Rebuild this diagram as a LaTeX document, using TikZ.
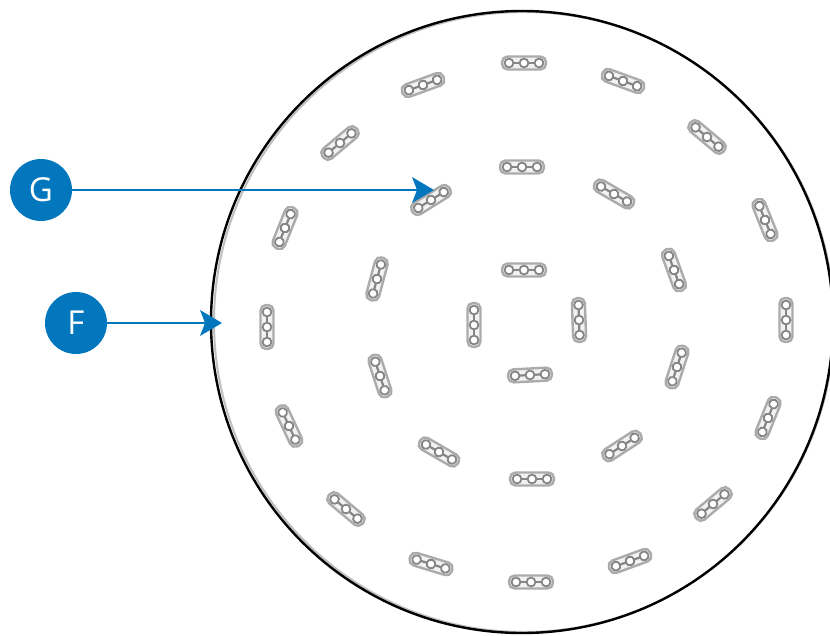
\documentclass[tikz,border=0pt]{standalone}
\usepackage{fontspec}
\setmainfont{Open Sans}
\usetikzlibrary{arrows.meta}
\definecolor{callout}{HTML}{0277BD}
\definecolor{plateline}{HTML}{ABABAB}
\definecolor{holeline}{HTML}{858585}
\tikzset{
  x=1pt,y=-1pt,
  badge/.style={circle,fill=callout,text=white,minimum size=62pt,inner sep=0pt,font=\fontsize{33}{33}\selectfont},
  leader/.style={draw=callout,line width=2.4pt,-{Stealth[length=22pt,width=26pt,inset=5pt,line width=0pt]}},
  plate body/.style={draw=plateline,fill=black!5,line width=2.4pt,rounded corners=5.5pt},
  plate hole/.style={draw=holeline,line width=1.8pt,fill=white},
  pics/fixplate/.style={code={
    \draw[plate body] (-22,-6.5) rectangle (22,6.5);
    \draw[holeline,line width=2.2pt] (-12,0) -- (12,0);
    \draw[plate hole] (-15,0) circle[radius=4.4pt];
    \draw[plate hole] (0,0) circle[radius=4.4pt];
    \draw[plate hole] (15,0) circle[radius=4.4pt];
  }}
}
\begin{document}
\begin{tikzpicture}
\useasboundingbox (0,0) rectangle (830,635);
\clip (0,0) rectangle (830,635);
\fill[white] (0,0) rectangle (830,635);
\draw[black!25,line width=2pt] (524,322) circle[radius=310pt];
\draw[black,line width=2.4pt] (522,322) circle[radius=311pt];
\foreach \px/\py/\pa in {
  524/63/0,623/81/20,707/137/40,765/220/68,786/320/90,768/418/-68,713/504/-40,630/561/-20,
  531/582/0,431/564/17,346/509/40,289/426/65,267/327/90,285/228/-68,340/143/-40,423/85/-20,
  522/167/0,614/194/30,674/270/70,677/367/-72,622/446/-33,532/479/0,439/452/30,380/376/72,377/279/-75,431/200/-32,
  524/270/0,579/320/88,530/375/-3,474/325/90}{
  \pic[rotate=-\pa] at (\px,\py) {fixplate};
}
\node[badge] (G) at (41,190) {G};
\node[badge] (F) at (76,323) {F};
\coordinate (Gtip) at (434,190);
\coordinate (Ftip) at (222,323);
\draw[leader] (G) -- (Gtip);
\draw[leader] (F) -- (Ftip);
\end{tikzpicture}
\end{document}
